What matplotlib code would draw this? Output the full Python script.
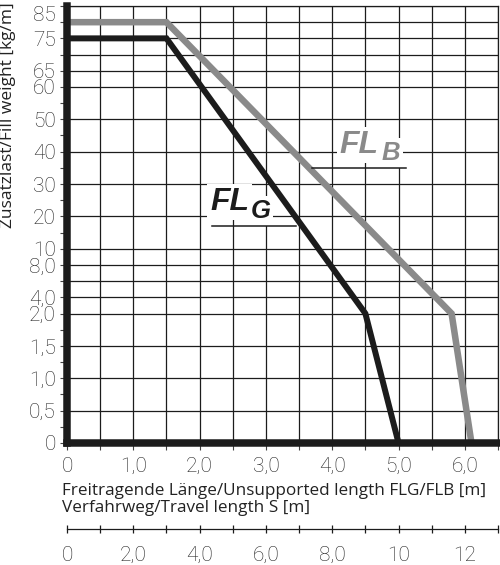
import numpy as np
import matplotlib
matplotlib.use('Agg')
import matplotlib.pyplot as plt
from matplotlib.ticker import FixedLocator

# ---------------- data ----------------
fl_g_x = [0.0, 1.5, 4.5, 5.0]
fl_g_y = [75.0, 75.0, 2.0, 0.0]
fl_b_x = [0.0, 1.5, 5.8, 6.1]
fl_b_y = [80.0, 80.0, 2.0, 0.0]

# non-linear y axis: grid values and their rank on the axis
y_grid_values = [0, 0.5, 1, 1.5, 2, 4, 6, 8, 10, 20, 30, 40, 50, 60, 65, 70, 75, 80, 85]
y_grid_rank = [0, 1, 2, 3, 4, 4.5, 5, 5.5, 6, 7, 8, 9, 10, 11, 11.5, 12, 12.5, 13, 13.5]
y_minor = [0.25, 0.75, 1.25, 1.75, 15, 25, 35, 45, 55]
y_label_map = {0: '0', 0.5: '0,5', 1: '1,0', 1.5: '1,5', 2: '2,0', 4: '4,0', 8: '8,0',
               10: '10', 20: '20', 30: '30', 40: '40', 50: '50', 60: '60', 65: '65',
               75: '75', 85: '85'}

x_major = [0, 1, 2, 3, 4, 5, 6]
x_labels = ['0', '1,0', '2,0', '3,0', '4,0', '5,0', '6,0']
x_minor = [0.5, 1.5, 2.5, 3.5, 4.5, 5.5, 6.5]

s_major = [0, 2, 4, 6, 8, 10, 12]
s_labels = ['0', '2,0', '4,0', '6,0', '8,0', '10', '12']
s_minor = [1, 3, 5, 7, 9, 11, 13]

# ---------------- figure ----------------
plt.rcParams['font.family'] = ['Open Sans', 'DejaVu Sans']
TICKFONT = ['Roboto', 'DejaVu Sans']
TICKSIZE = 15
DARK = '#1c1c1c'
GRAY = '#8a8a8a'

fig = plt.figure(figsize=(5.0, 5.65), dpi=100)
ax = fig.add_axes([67 / 500, (565 - 443) / 565, (498 - 67) / 500, (443 - 6) / 565])

V = np.array(y_grid_values, dtype=float)
P = np.array(y_grid_rank, dtype=float)


def fwd(v):
    return np.interp(v, V, P)


def inv(p):
    return np.interp(p, P, V)


ax.set_yscale('function', functions=(fwd, inv))
ax.set_xlim(0, 6.5)
ax.set_ylim(0, 85)

# ticks & grid
ax.set_xticks(x_major, x_labels, fontsize=TICKSIZE, fontweight='light', fontfamily=TICKFONT)
ax.xaxis.set_minor_locator(FixedLocator(x_minor))
ylabs = [y_label_map.get(v, '') for v in y_grid_values]
ax.set_yticks(y_grid_values, ylabs, fontsize=TICKSIZE, fontweight='light', fontfamily=TICKFONT)
ax.yaxis.set_minor_locator(FixedLocator(y_minor))
ax.yaxis.set_minor_formatter(plt.NullFormatter())

ax.xaxis.grid(True, which='both', color=DARK, lw=0.9, zorder=0)
ax.yaxis.grid(True, which='major', color=DARK, lw=0.9, zorder=0)
ax.set_axisbelow(True)

ax.tick_params(axis='both', which='both', direction='out', length=5, width=0.8,
               color='#444444', labelcolor='#222222')
ax.tick_params(axis='x', which='both', pad=5)
ax.tick_params(axis='y', which='both', pad=3)

for lab in ax.get_yticklabels():
    if lab.get_text() == '85':
        lab.set_verticalalignment('top')

# spines
for s in ['left', 'bottom']:
    ax.spines[s].set_linewidth(5.4)
    ax.spines[s].set_color(DARK)
    ax.spines[s].set_capstyle('projecting')
for s in ['top', 'right']:
    ax.spines[s].set_linewidth(0.9)
    ax.spines[s].set_color(DARK)

# data lines
ax.plot(fl_b_x, fl_b_y, color=GRAY, lw=4.7, solid_joinstyle='miter', zorder=2)
ax.plot(fl_g_x, fl_g_y, color=DARK, lw=4.3, solid_joinstyle='miter', zorder=2.1)

# curve labels
LBLFONT = ['Liberation Sans', 'DejaVu Sans']
box = dict(facecolor='white', edgecolor='none', pad=2.0)
ax.text(2.16, 22, 'FL', fontsize=23, fontweight='bold', fontstyle='italic',
        family=LBLFONT, color=DARK, ha='left', va='baseline', bbox=box, zorder=3)
ax.text(2.77, 19.5, 'G', fontsize=18.5, fontweight='bold', fontstyle='italic',
        family=LBLFONT, color=DARK, ha='left', va='baseline', bbox=box, zorder=3.1)
ax.plot([2.18, 3.455], [17, 17], color=DARK, lw=1.1, zorder=4)

ax.text(4.11, 39.6, 'FL', fontsize=23, fontweight='bold', fontstyle='italic',
        family=LBLFONT, color=GRAY, ha='left', va='baseline', bbox=box, zorder=3)
ax.text(4.75, 37.4, 'B', fontsize=18.5, fontweight='bold', fontstyle='italic',
        family=LBLFONT, color=GRAY, ha='left', va='baseline', bbox=box, zorder=3.1)
ax.plot([3.695, 5.105], [35, 35], color=DARK, lw=1.1, zorder=4)

# axis labels
ax.set_xlabel('Freitragende Länge/Unsupported length FLG/FLB [m]\nVerfahrweg/Travel length S [m]',
              fontsize=12.3, color='#222222', loc='left', linespacing=1.1)
ax.xaxis.set_label_coords(-0.012, -0.092)
ax.set_ylabel('Zusatzlast/Fill weight [kg/m]', fontsize=12.5, color='#222222', loc='top')
ax.yaxis.label.set_rotation_mode('default')
ax.yaxis.label.set_horizontalalignment('center')
ax.yaxis.label.set_verticalalignment('top')
ax.yaxis.set_label_coords(-0.136, 1.008)

# secondary travel axis
sec = ax.secondary_xaxis((443 - 529) / (443 - 6), functions=(lambda x: 2 * x, lambda s: s / 2))
sec.set_xticks(s_major, s_labels, fontsize=TICKSIZE, fontweight='light', fontfamily=TICKFONT)
sec.xaxis.set_minor_locator(FixedLocator(s_minor))
sec.tick_params(axis='x', which='both', direction='inout', length=6, width=0.9,
                color=DARK, labelcolor='#222222', pad=9)
sec.spines['bottom'].set_linewidth(0.9)
sec.spines['bottom'].set_color(DARK)

fig.savefig('out.png', dpi=100)
